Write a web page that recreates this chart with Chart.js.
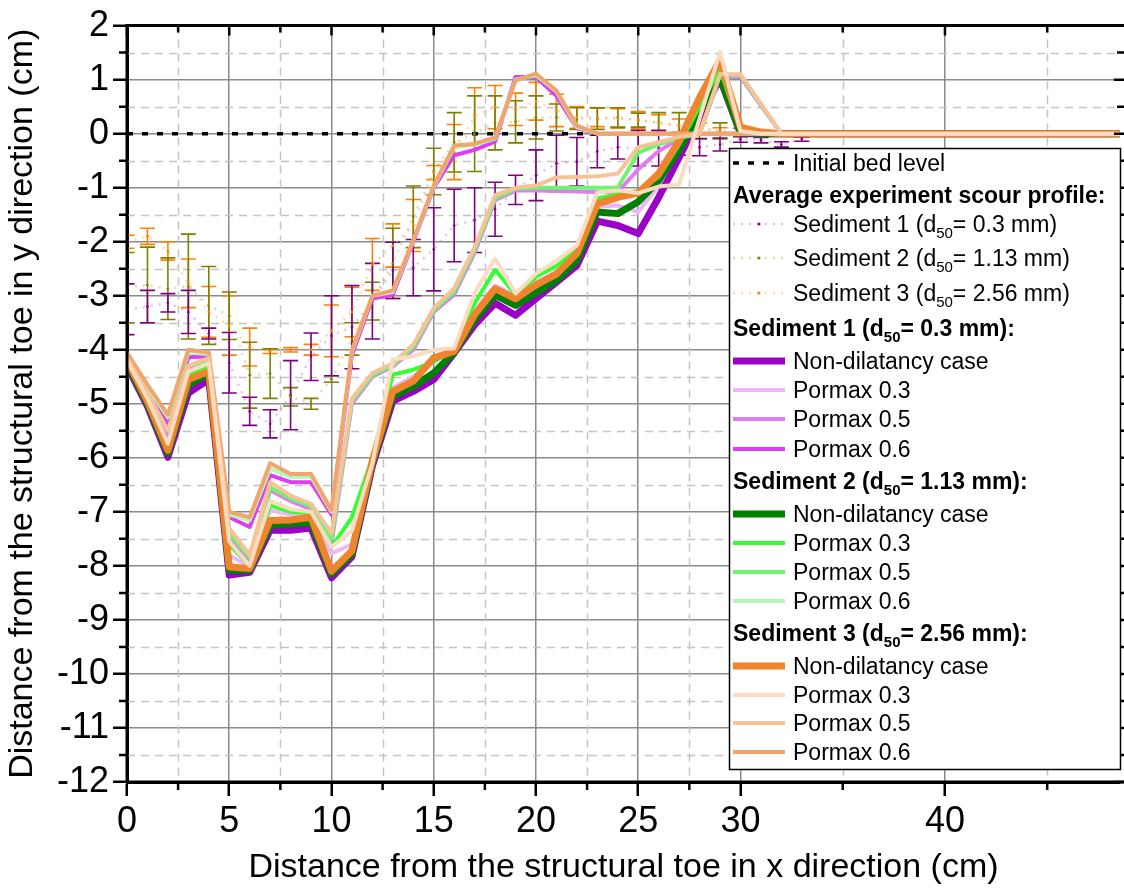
<!DOCTYPE html>
<html>
<head>
<meta charset="utf-8">
<script src="https://cdn.jsdelivr.net/npm/chart.js@4.4.1/dist/chart.umd.min.js"></script>
<style>
  html, body { margin: 0; padding: 0; background: #ffffff; }
  canvas { display: block; }
</style>
</head>
<body>
<canvas id="profile" width="1124" height="888"></canvas>
<script>
const FONT = '"Liberation Sans", Arial, Helvetica, sans-serif';

// ---- axis ticks ----
const xMajorTicks = [0, 5, 10, 15, 20, 25, 30, 40];
const xMinorTicks = [2.5, 7.5, 12.5, 17.5, 22.5, 27.5, 35, 45];
const yMajorTicks = [-12, -11, -10, -9, -8, -7, -6, -5, -4, -3, -2, -1, 0, 1, 2];
const yMinorTicks = [-11.5, -10.5, -9.5, -8.5, -7.5, -6.5, -5.5, -4.5, -3.5, -2.5, -1.5, -0.5, 0.5, 1.5];
const xAxisMax = 48.56;

// ---- initial bed ----
const bedX = [0, 48.56];
const bedY = [0, 0];

// ---- simulated profiles (node positions in cm) ----
const simX = [0, 1, 2, 3, 4, 5, 6, 7, 8, 9, 10, 11, 12, 13, 14, 15, 16, 17, 18, 19,
              20, 21, 22, 23, 24, 25, 26, 27, 28, 29, 30, 31, 32, 48.56];

// Sediment 1 (d50 = 0.3 mm)
const s1NonDil = [-4.30,-5.05,-5.99,-4.80,-4.55,-8.17,-8.12,-7.34,-7.34,-7.30,
                  -8.22,-7.83,-6.15,-4.95,-4.77,-4.55,-4.06,-3.54,-3.14,-3.36,
                  -3.05,-2.75,-2.44,-1.62,-1.70,-1.85,-1.18,-0.44, 0.30, 1.02,
                   0.00, 0.00, 0.00, 0.00];
const s1P03    = [-4.25,-4.95,-5.85,-4.50,-4.35,-7.80,-8.02,-6.97,-7.05,-7.05,
                  -7.77,-7.60,-6.05,-4.70,-4.50,-4.15,-4.02,-3.30,-2.81,-3.00,
                  -2.75,-2.55,-2.25,-1.35,-1.33,-1.45,-0.95,-0.30, 0.40, 1.10,
                   0.02, 0.00, 0.00, 0.00];
const s1P05    = [-4.20,-4.85,-5.60,-4.35,-4.22,-7.50,-7.90,-6.60,-6.80,-6.95,
                  -7.60,-5.00,-4.50,-4.31,-4.00,-3.30,-2.98,-2.20,-1.23,-1.05,
                  -1.05,-1.06,-1.07,-1.08,-1.08,-0.66,-0.32,-0.10, 0.00, 1.05,
                   1.05, 0.52, 0.00, 0.00];
const s1P06    = [-4.10,-4.75,-5.37,-4.14,-4.12,-7.10,-7.28,-6.32,-6.45,-6.45,
                  -7.05,-4.10,-3.05,-2.98,-2.00,-1.00,-0.40,-0.30,-0.15, 1.05,
                   1.05, 0.70, 0.10, 0.00, 0.00, 0.00, 0.00, 0.00, 0.00, 0.00,
                   0.00, 0.00, 0.00, 0.00];

// Sediment 2 (d50 = 1.13 mm)
const s2NonDil = [-4.25,-5.00,-5.92,-4.65,-4.45,-8.08,-8.08,-7.25,-7.22,-7.20,
                  -8.15,-7.78,-6.10,-4.86,-4.68,-4.43,-4.05,-3.45,-2.99,-3.18,
                  -2.95,-2.72,-2.35,-1.45,-1.48,-1.26,-0.87,-0.31, 0.40, 1.05,
                   0.02, 0.00, 0.00, 0.00];
const s2P03    = [-4.22,-4.90,-5.80,-4.45,-4.30,-7.60,-8.00,-6.88,-7.00,-7.02,
                  -7.65,-7.10,-6.00,-4.46,-4.37,-4.22,-4.00,-3.14,-2.52,-2.98,
                  -2.65,-2.45,-2.15,-1.20,-1.12,-1.06,-0.80,-0.20, 0.50, 1.20,
                   0.05, 0.00, 0.00, 0.00];
const s2P05    = [-4.18,-4.82,-5.50,-4.30,-4.20,-7.40,-7.85,-6.55,-6.75,-6.90,
                  -7.50,-4.95,-4.47,-4.28,-3.95,-3.27,-2.92,-2.15,-1.20,-1.02,
                  -1.00,-1.00,-1.00,-1.00,-1.00,-0.35,-0.20,-0.08, 0.00, 1.08,
                   1.08, 0.54, 0.00, 0.00];
const s2P06    = [-4.08,-4.70,-5.25,-4.05,-4.08,-7.05,-7.15,-6.20,-6.35,-6.35,
                  -7.00,-4.03,-3.00,-2.93,-1.98,-0.98,-0.25,-0.20,-0.09, 1.00,
                   1.08, 0.78, 0.12, 0.00, 0.00, 0.00, 0.00, 0.00, 0.00, 0.00,
                   0.00, 0.00, 0.00, 0.00];

// Sediment 3 (d50 = 2.56 mm)
const s3NonDil = [-4.20,-4.95,-5.86,-4.55,-4.40,-8.02,-8.05,-7.16,-7.15,-7.10,
                  -8.10,-7.72,-6.05,-4.77,-4.58,-4.15,-4.03,-3.35,-2.87,-3.06,
                  -2.80,-2.60,-2.22,-1.30,-1.18,-1.10,-0.74,-0.13, 0.67, 1.36,
                   0.12, 0.03, 0.00, 0.00];
const s3P03    = [-4.20,-4.90,-5.74,-4.40,-4.25,-7.55,-8.00,-6.80,-6.95,-7.00,
                  -7.65,-7.35,-6.10,-4.18,-4.12,-4.00,-3.97,-2.95,-2.31,-2.96,
                  -2.59,-2.35,-2.07,-1.09,-1.05,-1.10,-0.98,-0.94, 0.28, 1.51,
                   0.05, 0.00, 0.00, 0.00];
const s3P05    = [-4.15,-4.80,-5.50,-4.30,-4.15,-7.30,-7.80,-6.45,-6.70,-6.85,
                  -7.40,-4.90,-4.43,-4.25,-3.90,-3.23,-2.86,-2.10,-1.14,-1.00,
                  -0.96,-0.81,-0.80,-0.79,-0.74,-0.25,-0.16,-0.06, 0.00, 1.10,
                   1.10, 0.55, 0.00, 0.00];
const s3P06    = [-4.05,-4.65,-5.20,-4.00,-4.05,-7.00,-7.10,-6.10,-6.30,-6.30,
                  -6.97,-4.00,-3.00,-2.90,-1.97,-0.96,-0.22,-0.19,-0.07, 0.98,
                   1.11, 0.80, 0.15, 0.00, 0.00, 0.00, 0.00, 0.00, 0.00, 0.00,
                   0.00, 0.00, 0.00, 0.00];

// ---- averaged experiments: mean and standard deviation ----
const expX = [0, 1, 2, 3, 4, 5, 6, 7, 8, 9, 10, 11, 12, 13, 14, 15, 16, 17, 18, 19,
              20, 21, 22, 23, 24, 25, 26, 27, 28, 29, 30, 31, 32, 33];

const exp1Mean = [-3.25,-3.20,-3.13,-3.30,-3.70,-4.24,-5.14,-5.37,-4.84,-4.13,
                  -3.74,-3.58,-3.10,-2.53,-2.48,-2.14,-1.70,-1.60,-1.40,-1.04,
                  -0.77,-0.55,-0.52,-0.33,-0.25,-0.27,-0.27,-0.20,-0.25,-0.20,
                  -0.10,-0.12,-0.20,-0.10];
const exp1Sd   = [0.47,0.30,0.17,0.40,0.10,0.56,0.26,0.26,0.64,0.44,
                  0.74,0.77,0.70,0.52,0.52,0.77,0.67,0.60,0.50,0.27,
                  0.47,0.52,0.45,0.30,0.22,0.33,0.33,0.20,0.16,0.12,
                  0.06,0.05,0.05,0.04];

const exp2Mean = [-2.85,-2.80,-2.87,-2.83,-3.18,-3.37,-4.47,-4.44,-4.87,-5.00,
                  -4.54,-3.80,-3.10,-2.40,-1.54,-0.70,-0.16, 0.00, 0.20, 0.22,
                   0.30, 0.30, 0.28, 0.28, 0.30, 0.25, 0.20, 0.14, 0.10, 0.05,
                   0.02, 0.00, 0.00, 0.00];
const exp2Sd   = [0.65,0.70,0.57,0.97,0.72,0.44,0.61,0.46,0.17,0.10,
                  0.06,0.30,0.35,0.65,0.57,0.43,0.55,0.70,0.50,0.39,
                  0.40,0.25,0.20,0.20,0.18,0.13,0.19,0.25,0.20,0.15,
                  0.08,0.00,0.00,0.00];

const exp3Mean = [-2.00,-1.90,-2.17,-2.77,-3.30,-3.55,-3.95,-4.03,-4.00,-4.00,
                  -3.65,-3.30,-2.42,-2.07,-1.70,-0.72,-0.34, 0.33, 0.49, 0.45,
                   0.60, 0.43, 0.30, 0.30, 0.28, 0.25, 0.20, 0.15, 0.10, 0.05,
                   0.00, 0.00, 0.00, 0.00];
const exp3Sd   = [0.12,0.15,0.17,0.45,0.47,0.55,0.35,0.04,0.04,0.10,
                  0.48,0.46,0.48,0.40,0.48,0.13,0.51,0.52,0.40,0.30,
                  0.35,0.30,0.20,0.17,0.18,0.16,0.15,0.12,0.10,0.06,
                  0.00,0.00,0.00,0.00];

// ---- dataset builders ----
function profile(label, values, color, width) {
  return {
    label,
    data: simX.map((x, i) => ({ x, y: values[i] })),
    borderColor: color,
    backgroundColor: color,
    borderWidth: width,
    pointRadius: 0,
    pointHoverRadius: 0,
    tension: 0,
    fill: false,
    borderJoinStyle: 'round'
  };
}
function experiment(label, mean, sd, pale, dark) {
  return {
    label,
    data: expX.map((x, i) => ({ x, y: mean[i] })),
    errorBars: sd,
    errorColor: dark,
    borderColor: pale,
    backgroundColor: dark,
    borderWidth: 2.5,
    borderDash: [2, 6],
    pointRadius: 1.3,
    pointBorderWidth: 0,
    pointBackgroundColor: dark,
    tension: 0,
    fill: false
  };
}

const dsS3P03 = profile('Pormax 0.3', s3P03, '#fbdcc2', 4);
const dsS3P05 = profile('Pormax 0.5', s3P05, '#f8c297', 4);
const dsS3P06 = profile('Pormax 0.6', s3P06, '#f0a56c', 4);
const dsS3Non = profile('Non-dilatancy case', s3NonDil, '#f0842c', 7);
const dsS2P03 = profile('Pormax 0.3', s2P03, '#33ff33', 4);
const dsS2P05 = profile('Pormax 0.5', s2P05, '#6ef46e', 4);
const dsS2P06 = profile('Pormax 0.6', s2P06, '#b4f7b4', 4);
const dsS2Non = profile('Non-dilatancy case', s2NonDil, '#007f00', 7);
const dsS1P03 = profile('Pormax 0.3', s1P03, '#f2b6f8', 4);
const dsS1P05 = profile('Pormax 0.5', s1P05, '#e07cf2', 4);
const dsS1P06 = profile('Pormax 0.6', s1P06, '#dd3df5', 4);
const dsS1Non = profile('Non-dilatancy case', s1NonDil, '#9a00c8', 7);

const dsExp1 = experiment('Sediment 1', exp1Mean, exp1Sd, 'rgba(190,120,200,0.45)', '#800080');
const dsExp2 = experiment('Sediment 2', exp2Mean, exp2Sd, 'rgba(180,180,90,0.45)', '#808000');
const dsExp3 = experiment('Sediment 3', exp3Mean, exp3Sd, 'rgba(255,180,110,0.55)', '#ff8000');

const dsBed = {
  label: 'Initial bed level',
  data: bedX.map((x, i) => ({ x, y: bedY[i] })),
  borderColor: '#000000',
  borderWidth: 3.5,
  borderDash: [6, 9],
  pointRadius: 0,
  tension: 0,
  fill: false
};

// first entry is painted last (on top)
const datasets = [
  dsS3P03, dsS3P05, dsS3P06, dsS3Non,
  dsS2P03, dsS2P05, dsS2P06, dsS2Non,
  dsS1P03, dsS1P05, dsS1P06, dsS1Non,
  dsExp3, dsExp2, dsExp1,
  dsBed
];

// ---- plugins ----
const minorGrid = {
  id: 'minorGrid',
  beforeDatasetsDraw(chart) {
    const { ctx, chartArea: a, scales: { x, y } } = chart;
    ctx.save();
    ctx.strokeStyle = '#c4c4c4';
    ctx.lineWidth = 1.5;
    ctx.setLineDash([8, 6]);
    ctx.beginPath();
    xMinorTicks.forEach(v => {
      const p = Math.round(x.getPixelForValue(v)) + 0.5;
      ctx.moveTo(p, a.top); ctx.lineTo(p, a.bottom);
    });
    yMinorTicks.forEach(v => {
      const p = Math.round(y.getPixelForValue(v)) + 0.5;
      ctx.moveTo(a.left, p); ctx.lineTo(a.right, p);
    });
    ctx.stroke();
    ctx.restore();
  }
};

const errorBars = {
  id: 'errorBars',
  beforeDatasetsDraw(chart) {
    const { ctx, chartArea: a, scales: { x, y } } = chart;
    ctx.save();
    ctx.beginPath();
    ctx.rect(a.left, a.top, a.right - a.left, a.bottom - a.top);
    ctx.clip();
    ctx.lineWidth = 1.6;
    chart.data.datasets.forEach(ds => {
      if (!ds.errorBars) return;
      ctx.strokeStyle = ds.errorColor;
      ds.data.forEach((pt, i) => {
        const e = ds.errorBars[i];
        if (!e) return;
        const px = x.getPixelForValue(pt.x);
        const yt = y.getPixelForValue(pt.y + e);
        const yb = y.getPixelForValue(pt.y - e);
        ctx.beginPath();
        ctx.moveTo(px, yt); ctx.lineTo(px, yb);
        ctx.moveTo(px - 7.5, yt); ctx.lineTo(px + 7.5, yt);
        ctx.moveTo(px - 7.5, yb); ctx.lineTo(px + 7.5, yb);
        ctx.stroke();
      });
    });
    ctx.restore();
  }
};

const frame = {
  id: 'frame',
  afterDatasetsDraw(chart) {
    const { ctx, chartArea: a, scales: { x, y } } = chart;
    ctx.save();
    ctx.strokeStyle = '#000';
    ctx.lineWidth = 3;
    ctx.beginPath();
    ctx.moveTo(a.left, a.bottom); ctx.lineTo(a.left, a.top); ctx.lineTo(a.right + 4, a.top);
    ctx.moveTo(a.left, a.bottom); ctx.lineTo(a.right + 4, a.bottom);
    ctx.stroke();
    ctx.lineWidth = 2.5;
    ctx.beginPath();
    xMajorTicks.forEach(v => {
      const p = x.getPixelForValue(v);
      ctx.moveTo(p, a.top); ctx.lineTo(p, a.top + 10);
    });
    xMinorTicks.forEach(v => {
      const p = x.getPixelForValue(v);
      ctx.moveTo(p, a.top); ctx.lineTo(p, a.top + 7);
      ctx.moveTo(p, a.bottom); ctx.lineTo(p, a.bottom + 8);
    });
    yMajorTicks.forEach(v => {
      const p = y.getPixelForValue(v);
      ctx.moveTo(a.right + 4, p); ctx.lineTo(a.right - 6, p);
    });
    yMinorTicks.forEach(v => {
      const p = y.getPixelForValue(v);
      ctx.moveTo(a.left, p); ctx.lineTo(a.left - 8, p);
      ctx.moveTo(a.right + 4, p); ctx.lineTo(a.right - 3, p);
    });
    ctx.stroke();
    ctx.restore();
  }
};

// legend rows: kind, dataset, text pieces
const legendRows = [
  { kind: 'sample', ds: dsBed, text: 'Initial bed level' },
  { kind: 'head', text: 'Average experiment scour profile:' },
  { kind: 'sample', ds: dsExp1, pre: 'Sediment 1 (d', sub: '50', post: '= 0.3 mm)' },
  { kind: 'sample', ds: dsExp2, pre: 'Sediment 2 (d', sub: '50', post: '= 1.13 mm)' },
  { kind: 'sample', ds: dsExp3, pre: 'Sediment 3 (d', sub: '50', post: '= 2.56 mm)' },
  { kind: 'head', pre: 'Sediment 1 (d', sub: '50', post: '= 0.3 mm):' },
  { kind: 'sample', ds: dsS1Non, text: 'Non-dilatancy case' },
  { kind: 'sample', ds: dsS1P03, text: 'Pormax 0.3' },
  { kind: 'sample', ds: dsS1P05, text: 'Pormax 0.5' },
  { kind: 'sample', ds: dsS1P06, text: 'Pormax 0.6' },
  { kind: 'head', pre: 'Sediment 2 (d', sub: '50', post: '= 1.13 mm):' },
  { kind: 'sample', ds: dsS2Non, text: 'Non-dilatancy case' },
  { kind: 'sample', ds: dsS2P03, text: 'Pormax 0.3' },
  { kind: 'sample', ds: dsS2P05, text: 'Pormax 0.5' },
  { kind: 'sample', ds: dsS2P06, text: 'Pormax 0.6' },
  { kind: 'head', pre: 'Sediment 3 (d', sub: '50', post: '= 2.56 mm):' },
  { kind: 'sample', ds: dsS3Non, text: 'Non-dilatancy case' },
  { kind: 'sample', ds: dsS3P03, text: 'Pormax 0.3' },
  { kind: 'sample', ds: dsS3P05, text: 'Pormax 0.5' },
  { kind: 'sample', ds: dsS3P06, text: 'Pormax 0.6' }
];
const legendRowGaps = [0, 32, 29, 34, 35, 35, 33, 29, 29, 30, 32, 33, 29, 29, 29, 32, 33, 29, 28, 29];

const legendBox = {
  id: 'legendBox',
  afterDraw(chart) {
    const ctx = chart.ctx;
    const box = { left: 729, top: 148, right: 1120, bottom: 769 };
    ctx.save();
    ctx.fillStyle = '#ffffff';
    ctx.fillRect(box.left, box.top, box.right - box.left, box.bottom - box.top);
    ctx.strokeStyle = '#000';
    ctx.lineWidth = 1.5;
    ctx.strokeRect(box.left + 0.5, box.top + 0.5, box.right - box.left, box.bottom - box.top);

    const sx0 = 733, sx1 = 785, tx = 793;
    let cy = 163;
    ctx.fillStyle = '#000';
    ctx.textBaseline = 'alphabetic';
    ctx.textAlign = 'left';

    const rich = (x, base, r, bold) => {
      const w = bold ? 'bold ' : '';
      ctx.font = `${w}23px ${FONT}`;
      if (r.text) { ctx.fillText(r.text, x, base); return; }
      ctx.fillText(r.pre, x, base);
      let cx = x + ctx.measureText(r.pre).width;
      ctx.font = `${w}15px ${FONT}`;
      ctx.fillText(r.sub, cx, base + 6);
      cx += ctx.measureText(r.sub).width;
      ctx.font = `${w}23px ${FONT}`;
      ctx.fillText(r.post, cx, base);
    };

    legendRows.forEach((r, i) => {
      cy += legendRowGaps[i];
      const base = cy + 8;
      if (r.kind === 'head') {
        ctx.fillStyle = '#000';
        rich(sx0, base, r, true);
        return;
      }
      const ds = r.ds;
      ctx.save();
      ctx.strokeStyle = ds.borderColor;
      ctx.lineWidth = ds.borderWidth;
      ctx.setLineDash(ds.borderDash || []);
      ctx.beginPath();
      ctx.moveTo(sx0, cy); ctx.lineTo(sx1, cy);
      ctx.stroke();
      if (ds.errorBars) {
        ctx.fillStyle = ds.pointBackgroundColor;
        ctx.beginPath();
        ctx.arc((sx0 + sx1) / 2, cy, 1.5, 0, Math.PI * 2);
        ctx.fill();
      }
      ctx.restore();
      ctx.fillStyle = '#000';
      rich(tx, base, r, false);
    });
    ctx.restore();
  }
};

// ---- chart ----
new Chart(document.getElementById('profile'), {
  type: 'line',
  data: { datasets },
  plugins: [minorGrid, errorBars, frame, legendBox],
  options: {
    responsive: false,
    devicePixelRatio: 1,
    animation: false,
    events: [],
    layout: { padding: { top: 25, right: 0, left: 0, bottom: 0 } },
    plugins: {
      legend: { display: false },
      tooltip: { enabled: false }
    },
    scales: {
      x: {
        type: 'linear',
        position: 'bottom',
        min: 0,
        max: xAxisMax,
        afterBuildTicks: s => { s.ticks = xMajorTicks.map(v => ({ value: v })); },
        afterFit: s => { s.height = 106; },
        ticks: {
          color: '#000',
          font: { family: FONT, size: 36 },
          padding: 4,
          maxRotation: 0,
          autoSkip: false
        },
        grid: {
          color: '#8a8a8a',
          lineWidth: 1.5,
          drawTicks: true,
          tickLength: 14,
          tickColor: '#000',
          tickWidth: 2.5
        },
        border: { display: true, color: '#000', width: 3 },
        title: {
          display: true,
          text: 'Distance from the structural toe in x direction (cm)',
          color: '#000',
          font: { family: FONT, size: 34 },
          padding: { top: 0, bottom: 0 }
        }
      },
      y: {
        type: 'linear',
        position: 'left',
        min: -12,
        max: 2,
        afterBuildTicks: s => { s.ticks = yMajorTicks.map(v => ({ value: v })); },
        afterFit: s => { s.width = 127; },
        ticks: {
          color: '#000',
          font: { family: FONT, size: 36 },
          padding: 4
        },
        grid: {
          color: '#8a8a8a',
          lineWidth: 1.5,
          drawTicks: true,
          tickLength: 14,
          tickColor: '#000',
          tickWidth: 2.5
        },
        border: { display: true, color: '#000', width: 3 },
        title: {
          display: true,
          text: 'Distance from the structural toe in y direction (cm)',
          color: '#000',
          font: { family: FONT, size: 34 },
          padding: { top: 2, bottom: 0 }
        }
      }
    }
  }
});
</script>
</body>
</html>
